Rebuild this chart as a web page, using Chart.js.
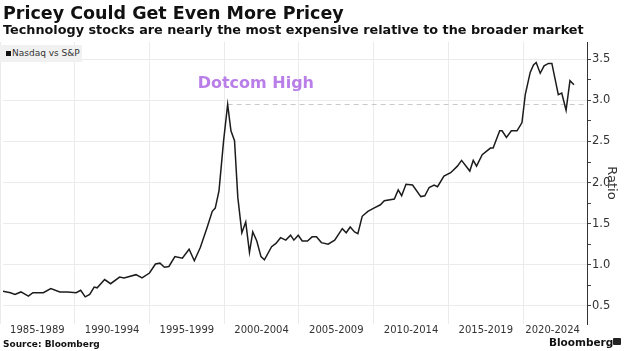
<!DOCTYPE html>
<html>
<head>
<meta charset="utf-8">
<script src="https://cdn.jsdelivr.net/npm/chart.js@4/dist/chart.umd.min.js"></script>
<style>
  body { margin: 0; width: 625px; height: 351px; background: #fff; overflow: hidden; position: relative; font-family: "DejaVu Sans", sans-serif; color: #111; }
  canvas { position: absolute; left: 0; top: 0; }
  .t { position: absolute; left: 3px; white-space: nowrap; font-weight: bold; line-height: 1; }
  #title { top: 4.7px; font-size: 17.5px; }
  #sub { top: 24.2px; font-size: 12.8px; }
  #legend { position: absolute; left: 0; top: 45px; width: 82px; height: 17px; background: #f1f1f1; font-size: 9px; color: #333; line-height: 17px; white-space: nowrap; }
  #legend i { display: inline-block; width: 5px; height: 5px; background: #111; margin: 0 1px 0 6px; vertical-align: 0; }
  #source { position: absolute; left: 3px; top: 339px; font-size: 9px; font-weight: bold; line-height: 10px; }
  #brand { position: absolute; left: 549px; top: 337px; font-size: 10.5px; font-weight: bold; line-height: 1; }
  #icon { position: absolute; left: 613px; top: 338px; width: 8px; height: 7px; background: #222; border-radius: 1px; }
</style>
</head>
<body>
<canvas id="c" width="625" height="351"></canvas>
<div class="t" id="title">Pricey Could Get Even More Pricey</div>
<div class="t" id="sub">Technology stocks are nearly the most expensive relative to the broader market</div>
<div id="legend"><i></i>Nasdaq vs S&amp;P</div>
<div id="source">Source: Bloomberg</div>
<div id="brand">Bloomberg</div>
<div id="icon"></div>
<script>
// Nasdaq / S&P 500 ratio
const years = [
  1985.2, 1985.7, 1986.0, 1986.4, 1986.9, 1987.2, 1987.9, 1988.4, 1989.0, 1989.5,
  1990.1, 1990.4, 1990.7, 1991.0, 1991.3, 1991.5, 1992.0, 1992.4, 1993.0, 1993.3,
  1994.1, 1994.5, 1995.0, 1995.4, 1995.7, 1996.0, 1996.3, 1996.7, 1997.2, 1997.65,
  1998.0, 1998.4, 1998.85, 1999.2, 1999.4, 1999.65, 1999.96, 2000.23, 2000.45, 2000.69,
  2000.91, 2001.18, 2001.44, 2001.69, 2001.91, 2002.18, 2002.46, 2002.69, 2003.17, 2003.46,
  2003.77, 2004.12, 2004.44, 2004.66, 2004.95, 2005.22, 2005.57, 2005.88, 2006.17, 2006.5,
  2006.95, 2007.39, 2007.9, 2008.16, 2008.43, 2008.72, 2008.94, 2009.23, 2009.61, 2010.01,
  2010.45, 2010.71, 2011.38, 2011.64, 2011.87, 2012.16, 2012.6, 2013.15, 2013.42, 2013.71,
  2014.04, 2014.27, 2014.7, 2015.15, 2015.6, 2015.88, 2016.43, 2016.66, 2016.88, 2017.26,
  2017.81, 2017.99, 2018.43, 2018.59, 2018.88, 2019.21, 2019.59, 2019.92, 2020.14, 2020.47,
  2020.69, 2020.87, 2021.14, 2021.4, 2021.69, 2021.92, 2022.35, 2022.58, 2022.87, 2023.13,
  2023.4
];
const ratio = [
  0.68, 0.66, 0.64, 0.67, 0.62, 0.66, 0.66, 0.71, 0.67, 0.67,
  0.66, 0.69, 0.61, 0.64, 0.73, 0.72, 0.82, 0.77, 0.85, 0.84,
  0.88, 0.84, 0.90, 1.01, 1.02, 0.97, 0.98, 1.10, 1.08, 1.19,
  1.05, 1.21, 1.45, 1.65, 1.69, 1.90, 2.51, 2.95, 2.63, 2.51,
  1.82, 1.39, 1.52, 1.15, 1.40, 1.29, 1.10, 1.06, 1.22, 1.26,
  1.33, 1.30, 1.36, 1.30, 1.36, 1.29, 1.29, 1.34, 1.34, 1.27,
  1.25, 1.30, 1.44, 1.39, 1.46, 1.40, 1.38, 1.59, 1.65, 1.69,
  1.73, 1.78, 1.80, 1.91, 1.84, 1.98, 1.97, 1.83, 1.84, 1.94,
  1.97, 1.95, 2.08, 2.12, 2.20, 2.27, 2.14, 2.27, 2.20, 2.34,
  2.42, 2.42, 2.63, 2.63, 2.55, 2.63, 2.63, 2.73, 3.07, 3.34,
  3.43, 3.46, 3.33, 3.42, 3.45, 3.45, 3.07, 3.09, 2.88, 3.24,
  3.19
];
const periods = ["1985-1989", "1990-1994", "1995-1999", "2000-2004", "2005-2009", "2010-2014", "2015-2019", "2020-2024"];
const yTicks = [0.5, 1.0, 1.5, 2.0, 2.5, 3.0, 3.5];

const X_MIN = 1985.2, X_MAX = 2024.27;
const GRID = "#ebebeb";

// dotcom peak: highest reading before 2010
let peakIdx = 0;
years.forEach((y, i) => { if (y < 2010 && ratio[i] > ratio[peakIdx]) peakIdx = i; });
const peak = { x: years[peakIdx], y: ratio[peakIdx] };

// x ticks: a gridline at each period start, a label in the middle of each period
const starts = periods.map(p => parseInt(p, 10));
const labelAt = new Map();
starts.forEach((s, i) => labelAt.set(Math.min(s + 2.5, X_MAX - 2.3), periods[i]));

const minorY = [];
for (let i = 0; i < yTicks.length - 1; i++) minorY.push((yTicks[i] + yTicks[i + 1]) / 2);

const dotcomLabel = {
  id: "dotcomLabel",
  afterDatasetsDraw(chart) {
    const { ctx, scales } = chart;
    const px = scales.x.getPixelForValue(peak.x);
    const py = scales.y.getPixelForValue(peak.y);
    ctx.save();
    ctx.font = "bold 16px 'DejaVu Sans'";
    ctx.fillStyle = "#b97ee8";
    ctx.textBaseline = "alphabetic";
    ctx.fillText("Dotcom High", px - 30, py - 16);
    ctx.restore();
  }
};

new Chart(document.getElementById("c"), {
  type: "line",
  data: {
    datasets: [
      {
        label: "Nasdaq vs S&P",
        data: years.map((x, i) => ({ x, y: ratio[i] })),
        borderColor: "#1c1c1c",
        borderWidth: 1.5,
        pointRadius: 0,
        tension: 0,
      },
      {
        label: "Dotcom High",
        data: [peak, { x: X_MAX, y: peak.y }],
        borderColor: "#c8c8c8",
        borderWidth: 1,
        borderDash: [5, 4],
        pointRadius: 0,
      },
    ],
  },
  options: {
    responsive: false,
    animation: false,
    devicePixelRatio: 1,
    layout: { padding: { top: 42, left: 0, right: 0, bottom: 0 } },
    plugins: { legend: { display: false }, tooltip: { enabled: false } },
    scales: {
      x: {
        type: "linear",
        min: X_MIN,
        max: X_MAX,
        afterBuildTicks: (s) => {
          s.ticks = [...starts, ...labelAt.keys()].sort((a, b) => a - b).map(v => ({ value: v }));
        },
        afterFit: (s) => { s.height = 27; },
        grid: {
          drawTicks: false,
          color: (c) => (c.tick && Number.isInteger(c.tick.value) ? GRID : "transparent"),
        },
        border: { display: false },
        ticks: {
          autoSkip: false,
          maxRotation: 0,
          padding: 0,
          color: "#333",
          font: { family: "DejaVu Sans", size: 10 },
          callback: (v) => labelAt.get(v) ?? "",
        },
      },
      y: {
        position: "right",
        min: 0.28,
        max: 3.71,
        afterBuildTicks: (s) => {
          s.ticks = [...yTicks, ...minorY].sort((a, b) => a - b).map(v => ({ value: v }));
        },
        afterFit: (s) => { s.width = 38; },
        grid: {
          color: (c) => (c.tick && yTicks.includes(c.tick.value) ? GRID : "transparent"),
          tickColor: "#444",
          tickLength: 4,
        },
        border: { display: true, color: "#333", width: 1 },
        ticks: {
          padding: 1,
          color: "#333",
          font: { family: "DejaVu Sans", size: 11.5 },
          callback: (v) => (yTicks.includes(v) ? v.toFixed(1) : ""),
        },
        title: {
          display: true,
          text: "Ratio",
          color: "#333",
          font: { family: "DejaVu Sans", size: 13 },
          padding: { top: 6, bottom: 0 },
        },
      },
    },
  },
  plugins: [dotcomLabel],
});
</script>
</body>
</html>
